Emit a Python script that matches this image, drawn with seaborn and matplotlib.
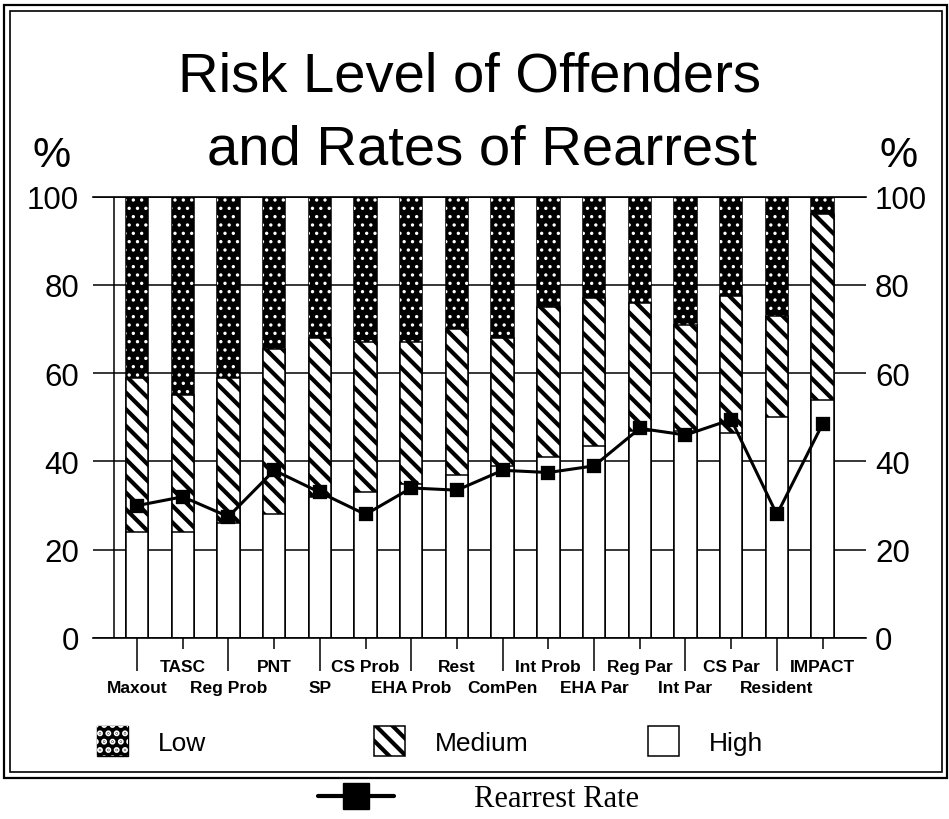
import matplotlib
matplotlib.use("Agg")
import matplotlib.pyplot as plt
from matplotlib.patches import Rectangle, Patch
from matplotlib.lines import Line2D
from matplotlib.legend_handler import HandlerTuple
import pandas as pd
import seaborn as sns

# ---- data -------------------------------------------------------------
programs = ["Maxout", "TASC", "Reg Prob", "PNT", "SP", "CS Prob", "EHA Prob", "Rest",
            "ComPen", "Int Prob", "EHA Par", "Reg Par", "Int Par", "CS Par",
            "Resident", "IMPACT"]
high_risk = [24, 24, 26, 28, 32, 33, 35, 37, 39, 41, 43.5, 47, 47, 46.5, 50, 54]
medium_risk = [35, 31, 33, 37.5, 36, 34, 32, 33, 29, 34, 33.5, 29, 24, 31, 23, 42]
low_risk = [41, 45, 41, 34.5, 32, 33, 33, 30, 32, 25, 23, 24, 29, 22.5, 27, 4]
rearrest_rate = [30, 32, 27.5, 38, 33, 28, 34, 33.5, 38, 37.5, 39, 47.5, 46, 49.5, 28, 48.5]
y_ticks = [0, 20, 40, 60, 80, 100]

df = pd.DataFrame({"program": programs, "high": high_risk, "medium": medium_risk,
                   "low": low_risk, "rearrest": rearrest_rate})
# stacked tops: High at the bottom, Medium in the middle, Low on top
df["top_high"] = df["high"]
df["top_medium"] = df["high"] + df["medium"]
df["top_low"] = df["high"] + df["medium"] + df["low"]

# ---- style ------------------------------------------------------------
sns.set_style("white")
plt.rcParams["font.family"] = ["Liberation Sans", "DejaVu Sans"]
for key in ("text.color", "axes.labelcolor", "xtick.color", "ytick.color"):
    plt.rcParams[key] = "black"

W, H = 949, 820
fig = plt.figure(figsize=(W / 100, H / 100), dpi=100)
ax = fig.add_axes([93 / W, 1 - 639 / H, (866 - 93) / W, (639 - 197.7) / H])

BAR_W = 0.49
EDGE = 1.1
SPECKLE = ".."

# Low: solid black with white speckles
plt.rcParams["hatch.linewidth"] = 1.2
sns.barplot(data=df, x="program", y="top_low", order=programs, width=BAR_W,
            color="black", facecolor="black", edgecolor="black", linewidth=EDGE,
            errorbar=None, zorder=2, ax=ax)
sns.barplot(data=df, x="program", y="top_low", order=programs, width=BAR_W,
            color="black", facecolor="none", edgecolor="white", linewidth=0,
            hatch=SPECKLE, errorbar=None, zorder=2, ax=ax)
# Medium: diagonal hatching
plt.rcParams["hatch.linewidth"] = 3.0
sns.barplot(data=df, x="program", y="top_medium", order=programs, width=BAR_W,
            color="white", facecolor="white", edgecolor="black", linewidth=EDGE,
            hatch="\\\\", errorbar=None, zorder=2, ax=ax)
# High: plain white
sns.barplot(data=df, x="program", y="top_high", order=programs, width=BAR_W,
            color="white", facecolor="white", edgecolor="black", linewidth=EDGE,
            errorbar=None, zorder=2, ax=ax)

# Rearrest rate line
sns.pointplot(data=df, x="program", y="rearrest", order=programs, color="black",
              marker="s", markersize=9, linewidth=2.2, errorbar=None, zorder=5, ax=ax)

# ---- axes -------------------------------------------------------------
ax.set_xlim(-0.963, 15.95)
ax.set_ylim(0, 100)
ax.set_xlabel("")
ax.set_ylabel("")
ax.set_axisbelow(True)
ax.yaxis.grid(True, color="black", linewidth=1.1)
ax.xaxis.grid(False)
for side in ("left", "right"):
    ax.spines[side].set_visible(False)
for side in ("top", "bottom"):
    ax.spines[side].set_visible(True)
    ax.spines[side].set_color("black")
    ax.spines[side].set_linewidth(1.2)
ax.axvline(-0.5, color="black", linewidth=1.1, zorder=1.5)

# alternating two-row category labels
ax.set_xticks(range(0, len(programs), 2), programs[0::2])
ax.set_xticks(range(1, len(programs), 2), programs[1::2], minor=True)
ax.tick_params(axis="x", which="major", direction="out", length=24, width=1.1,
               color="black", pad=6.5, labelsize=12.5, bottom=True)
ax.tick_params(axis="x", which="minor", direction="out", length=8, width=1.1,
               color="black", pad=7, labelsize=12.5, bottom=True)
for lab in ax.get_xticklabels(which="both"):
    lab.set_fontweight("bold")

ax.set_yticks(y_ticks, [str(v) for v in y_ticks])
ax.tick_params(axis="y", length=0, pad=10, labelsize=22.5, left=True)

ax2 = ax.twinx()
ax2.set_ylim(0, 100)
ax2.set_yticks(y_ticks, [str(v) for v in y_ticks])
ax2.tick_params(axis="y", length=0, pad=6.5, labelsize=22.5)
for s in ax2.spines.values():
    s.set_visible(False)
ax2.grid(False)

# ---- titles -----------------------------------------------------------
fig.text(470 / W, 1 - 91 / H, "Risk Level of Offenders", ha="center", va="baseline",
         fontsize=40.5)
fig.text(482 / W, 1 - 165 / H, "and Rates of Rearrest", ha="center", va="baseline",
         fontsize=40.5)
fig.text(52 / W, 1 - 167 / H, "%", ha="center", va="baseline", fontsize=31)
fig.text(899 / W, 1 - 167 / H, "%", ha="center", va="baseline", fontsize=31)

# ---- legends ----------------------------------------------------------
low_handle = (Patch(facecolor="black", edgecolor="black", linewidth=1),
              Patch(facecolor="none", edgecolor="white", linewidth=0, hatch=SPECKLE))
med_handle = Patch(facecolor="white", edgecolor="black", linewidth=EDGE, hatch="\\\\")
high_handle = Patch(facecolor="white", edgecolor="black", linewidth=EDGE)

for handle, label, x0 in [(low_handle, "Low", 97), (med_handle, "Medium", 374),
                          (high_handle, "High", 648)]:
    fig.legend([handle], [label], loc="center left",
               bbox_to_anchor=(x0 / W, 1 - 742 / H), frameon=False,
               borderpad=0, borderaxespad=0, fontsize=19,
               handlelength=1.175, handleheight=1.37, handletextpad=1.15,
               handler_map={tuple: HandlerTuple(ndivide=1, pad=0)})

rate_handle = Line2D([], [], color="black", linewidth=3, marker="s", markersize=19)
fig.legend([rate_handle], ["Rearrest Rate"], loc="center left",
           bbox_to_anchor=(318 / W, 1 - 800 / H), frameon=False, borderpad=0,
           borderaxespad=0, handlelength=2.5, handletextpad=2.6, numpoints=1,
           prop={"family": ["Liberation Serif", "DejaVu Serif"], "size": 22})

# ---- double frame -----------------------------------------------------
fig.add_artist(Rectangle((4 / W, 1 - 779 / H), (947 - 4) / W, (779 - 6) / H,
                         transform=fig.transFigure, fill=False, ec="black", lw=1.6))
fig.add_artist(Rectangle((10 / W, 1 - 773 / H), (942 - 10) / W, (773 - 12) / H,
                         transform=fig.transFigure, fill=False, ec="black", lw=1.2))

fig.savefig("out.png", dpi=100)
